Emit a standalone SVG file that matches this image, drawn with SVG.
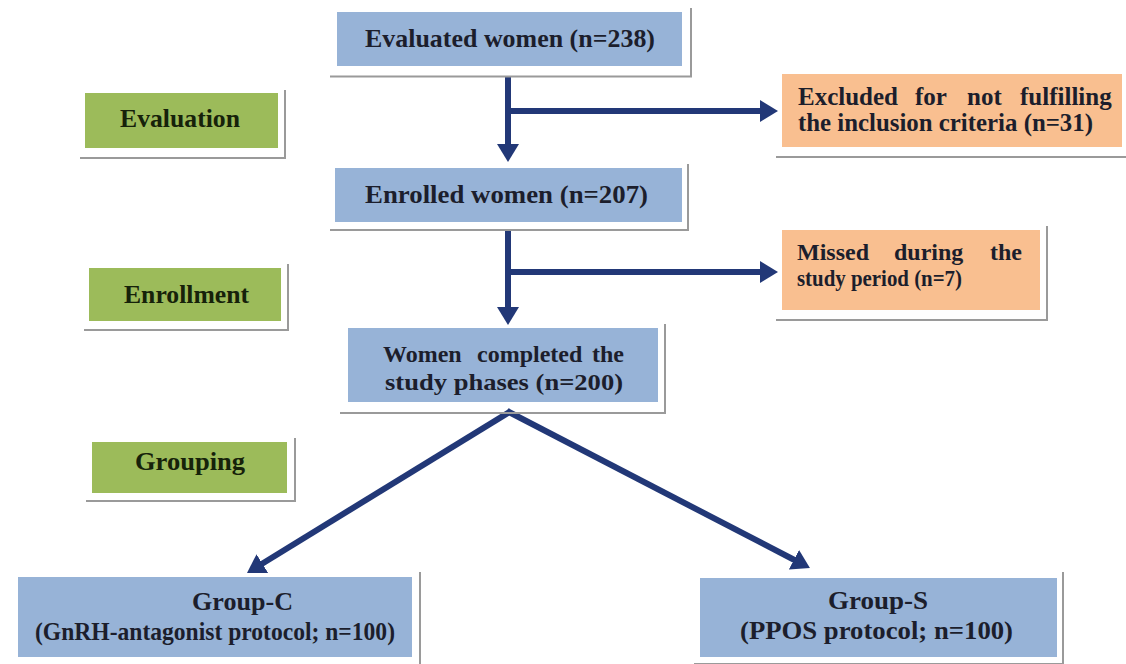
<svg xmlns="http://www.w3.org/2000/svg" width="1126" height="664" viewBox="0 0 1126 664">
<style>
.sh{stroke:#9a9a9a;stroke-width:2;fill:none;}
.blue{fill:#97b3d7;}
.orange{fill:#f9bf90;}
.green{fill:#9cbb5a;}
.t{font-family:"Liberation Serif","Times New Roman",serif;font-weight:bold;font-size:26px;fill:#1c1e2c;}
.tg{font-family:"Liberation Serif","Times New Roman",serif;font-weight:bold;font-size:26px;fill:#16220a;}
.s25{font-size:25px;}
.s24{font-size:24px;}
.conn{stroke:#223877;stroke-width:6;fill:none;marker-end:url(#ah);}
</style>
<defs>
<marker id="ah" markerUnits="userSpaceOnUse" viewBox="0 0 18 22" markerWidth="18" markerHeight="22" refX="6" refY="11" orient="auto">
<path d="M0,0 L18,11 L0,22 Z" fill="#223877"/>
</marker>
</defs>
<rect width="1126" height="664" fill="#ffffff"/>

<g id="connectors">
<line class="conn" x1="508" y1="77" x2="508" y2="150"/>
<line class="conn" x1="505" y1="111" x2="766" y2="111"/>
<line class="conn" x1="508" y1="230" x2="508" y2="313"/>
<line class="conn" x1="505" y1="272" x2="766" y2="272"/>
<line class="conn" x1="511" y1="411" x2="257.2" y2="566.7"/>
<line class="conn" x1="507" y1="411" x2="799.3" y2="562.5"/>
</g>

<g id="evaluated">
<path class="sh" d="M330,76.5 H691 V8"/>
<rect class="blue" x="337" y="12" width="345" height="54"/>
<text class="t" x="365" y="47" textLength="290" lengthAdjust="spacingAndGlyphs">Evaluated women (n=238)</text>
</g>

<g id="evaluation">
<path class="sh" d="M80,158 H285 V90"/>
<rect class="green" x="85" y="93" width="193" height="55"/>
<text class="tg" x="120" y="127" textLength="120" lengthAdjust="spacingAndGlyphs">Evaluation</text>
</g>

<g id="excluded">
<path class="sh" d="M776,157 H1126"/>
<rect class="orange" x="782" y="74" width="340" height="73"/>
<text class="t s25" y="105"><tspan x="798">Excluded</tspan><tspan x="915">for</tspan><tspan x="967">not</tspan><tspan x="1020">fulfilling</tspan></text>
<text class="t s25" x="798" y="131" textLength="295" lengthAdjust="spacingAndGlyphs">the inclusion criteria (n=31)</text>
</g>

<g id="enrolled">
<path class="sh" d="M330,230 H688 V164"/>
<rect class="blue" x="335" y="168" width="347" height="54"/>
<text class="t" x="365" y="203" textLength="283" lengthAdjust="spacingAndGlyphs">Enrolled women (n=207)</text>
</g>

<g id="missed">
<path class="sh" d="M776,320 H1047 V226"/>
<rect class="orange" x="782" y="230" width="258" height="80"/>
<text class="t s24" y="260"><tspan x="797">Missed</tspan><tspan x="894">during</tspan><tspan x="990">the</tspan></text>
<text class="t s24" x="797" y="286" textLength="165" lengthAdjust="spacingAndGlyphs">study period (n=7)</text>
</g>

<g id="enrollment">
<path class="sh" d="M84,330 H288 V264"/>
<rect class="green" x="89" y="268" width="192" height="53"/>
<text class="tg" x="124" y="303" textLength="125" lengthAdjust="spacingAndGlyphs">Enrollment</text>
</g>

<g id="completed">
<path class="sh" d="M340,413 H665 V324"/>
<rect class="blue" x="348" y="328" width="310" height="74"/>
<text class="t s24" y="362"><tspan x="383">Women</tspan><tspan x="477">completed</tspan><tspan x="592">the</tspan></text>
<text class="t s24" x="385" y="390" textLength="238" lengthAdjust="spacingAndGlyphs">study phases (n=200)</text>
</g>

<g id="grouping">
<path class="sh" d="M86,501 H295 V438"/>
<rect class="green" x="92" y="442" width="195" height="51"/>
<text class="tg" x="135" y="470" textLength="110" lengthAdjust="spacingAndGlyphs">Grouping</text>
</g>

<g id="groupC">
<path class="sh" d="M420,572 V664"/>
<rect class="blue" x="18" y="577" width="394" height="80"/>
<text class="t" x="192" y="610" textLength="101" lengthAdjust="spacingAndGlyphs">Group-C</text>
<text class="t" x="35" y="640" textLength="360" lengthAdjust="spacingAndGlyphs">(GnRH-antagonist protocol; n=100)</text>
</g>

<g id="groupS">
<path class="sh" d="M694,664 H1063 V572"/>
<rect class="blue" x="700" y="578" width="357" height="79"/>
<text class="t" x="828" y="609" textLength="100" lengthAdjust="spacingAndGlyphs">Group-S</text>
<text class="t" x="740" y="639" textLength="273" lengthAdjust="spacingAndGlyphs">(PPOS protocol; n=100)</text>
</g>
</svg>
